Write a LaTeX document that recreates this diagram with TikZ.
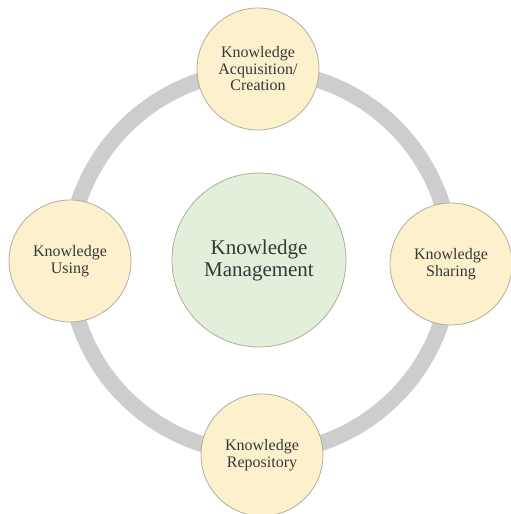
\documentclass[tikz,border=0pt]{standalone}
\usepackage{fontspec}
\setmainfont{Liberation Serif}
\definecolor{creamfill}{RGB}{253,241,205}
\definecolor{mintfill}{RGB}{226,239,218}
\definecolor{rimline}{RGB}{180,172,155}
\definecolor{ringgray}{RGB}{205,205,205}
\definecolor{textgray}{RGB}{55,55,55}
\tikzset{
  stage/.style={circle, draw=rimline, line width=0.8pt, fill=creamfill,
    minimum size=122pt, inner sep=0pt, align=center, text=textgray,
    font=\fontsize{16}{16.5}\selectfont},
  core/.style={circle, draw=rimline, line width=0.8pt, fill=mintfill,
    minimum size=174pt, inner sep=0pt, align=center, text=textgray,
    font=\fontsize{21}{22}\selectfont},
  ring/.style={draw=ringgray, line width=16pt}
}
\begin{document}
\begin{tikzpicture}[x=1pt, y=-1pt]

		\useasboundingbox (0,0) rectangle (511,514);

		% Draw the centre circle
		\node[core] (km) at (259,260) {Knowledge\\Management};

		% Draw the ring behind the four stages
		\draw[ring] (260,262) circle[radius=191pt];

		% Draw the four stages on the ring
		\node[stage] (acq) at (258,69) {Knowledge\\Acquisition/\\Creation};
		\node[stage] (share) at (451,264) {Knowledge\\Sharing};
		\node[stage] (repo) at (262,455) {Knowledge\\Repository};
		\node[stage] (use) at (70,261) {Knowledge\\Using};

\end{tikzpicture}
\end{document}
